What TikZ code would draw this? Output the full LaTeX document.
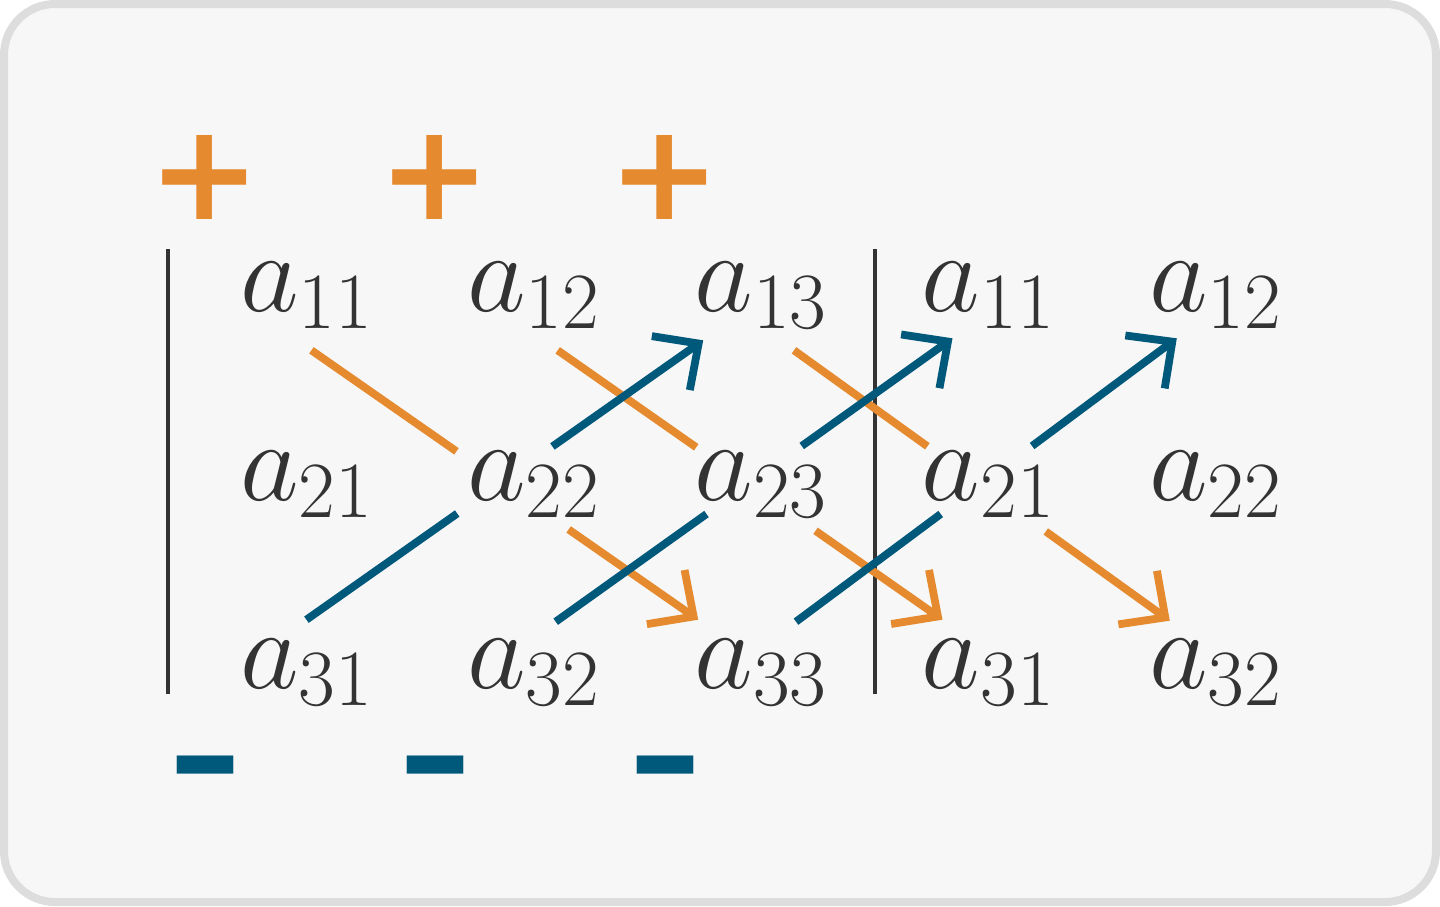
\RequirePackage{fix-cm}
\documentclass[tikz,border=0pt]{standalone}
\usepackage{amsmath}
\usepackage{fontspec}
\newfontfamily\signfont{DejaVu Sans}
\usetikzlibrary{matrix,calc,arrows.meta}
\definecolor{sarrpos}{HTML}{E58A2F}
\definecolor{sarrneg}{HTML}{00587A}
\definecolor{ink}{HTML}{333333}
\definecolor{panel}{HTML}{F7F7F7}
\definecolor{rim}{HTML}{DDDDDD}
\tikzset{
  possign/.style={inner sep=0pt, text=sarrpos, font=\signfont\bfseries\fontsize{67}{76}\selectfont},
  negsign/.style={inner sep=0pt, text=sarrneg, font=\signfont\bfseries\fontsize{72}{80}\selectfont},
  posline/.style={draw=sarrpos, line width=3.9pt},
  negline/.style={draw=sarrneg, line width=3.9pt},
  bar/.style={draw=ink, line width=2pt}
}

\begin{document}
\begin{tikzpicture}[x=0.5pt,y=-0.5pt,>={Straight Barb[length=17pt,width=33pt]}]
  \useasboundingbox (0,0) rectangle (1440,906);
  \draw[rim, fill=panel, line width=4pt, rounded corners=25.5pt] (4,4) rectangle (1436,902);

  \matrix (m) at (761,484) [matrix of math nodes,row sep=61pt,column sep=47.25pt,
    nodes={inner sep=0pt,text=ink,font=\fontsize{57}{68}\selectfont}]
  {
     a_{11} & a_{12} & a_{13} & a_{11} & a_{12} \\
     a_{21} & a_{22} & a_{23} & a_{21} & a_{22} \\
     a_{31} & a_{32} & a_{33} & a_{31} & a_{32} \\};

  % the two bars
  \draw[bar] ([shift={(-72,-13)}]m-1-1.north west) -- ([shift={(-72,-12)}]m-3-1.south west);
  \draw[bar] ($(m-1-3.north east)!.5!(m-1-4.north west)+(0,-13)$)
    -- ($(m-3-3.south east)!.5!(m-3-4.south west)+(0,-12)$);

  % ends of the diagonals
  \coordinate (o1s) at ([shift={(5,21)}]m-1-1.south);
  \coordinate (o1e) at ([shift={(4,-19)}]m-3-3.north west);
  \coordinate (o2s) at ([shift={(24,21)}]m-1-2.south);
  \coordinate (o2e) at ([shift={(21,-19)}]m-3-4.north west);
  \coordinate (o3s) at ([shift={(33,21)}]m-1-3.south);
  \coordinate (o3e) at ([shift={(21,-18)}]m-3-5.north west);
  \coordinate (b1s) at ([shift={(0,-19)}]m-3-1.north);
  \coordinate (b1e) at ([shift={(9,11)}]m-1-3.south west);
  \coordinate (b2s) at ([shift={(22,-17)}]m-3-2.north);
  \coordinate (b2e) at ([shift={(31,9)}]m-1-4.south west);
  \coordinate (b3s) at ([shift={(35,-17)}]m-3-3.north);
  \coordinate (b3e) at ([shift={(28,9)}]m-1-5.south west);

  \path[posline]
    (o1s) edge ($(o1s)!.375!(o1e)$)
    ($(o1s)!.665!(o1e)$) edge[->] (o1e)
    (o2s) edge ($(o2s)!.36!(o2e)$)
    ($(o2s)!.67!(o2e)$) edge[->] (o2e)
    (o3s) edge ($(o3s)!.355!(o3e)$)
    ($(o3s)!.67!(o3e)$) edge[->] (o3e);
  \path[negline]
    (b1s) edge ($(b1s)!.38!(b1e)$)
    ($(b1s)!.62!(b1e)$) edge[->] (b1e)
    (b2s) edge ($(b2s)!.38!(b2e)$)
    ($(b2s)!.62!(b2e)$) edge[->] (b2e)
    (b3s) edge ($(b3s)!.38!(b3e)$)
    ($(b3s)!.62!(b3e)$) edge[->] (b3e);

  % signs
  \node[possign] (p1) at (205,177) {+};
  \node[possign] (p2) at (435,177) {+};
  \node[possign] (p3) at (665,177) {+};
  \node[negsign] (n1) at (205,780) {–};
  \node[negsign] (n2) at (435,780) {–};
  \node[negsign] (n3) at (665,780) {–};
\end{tikzpicture}
\end{document}
